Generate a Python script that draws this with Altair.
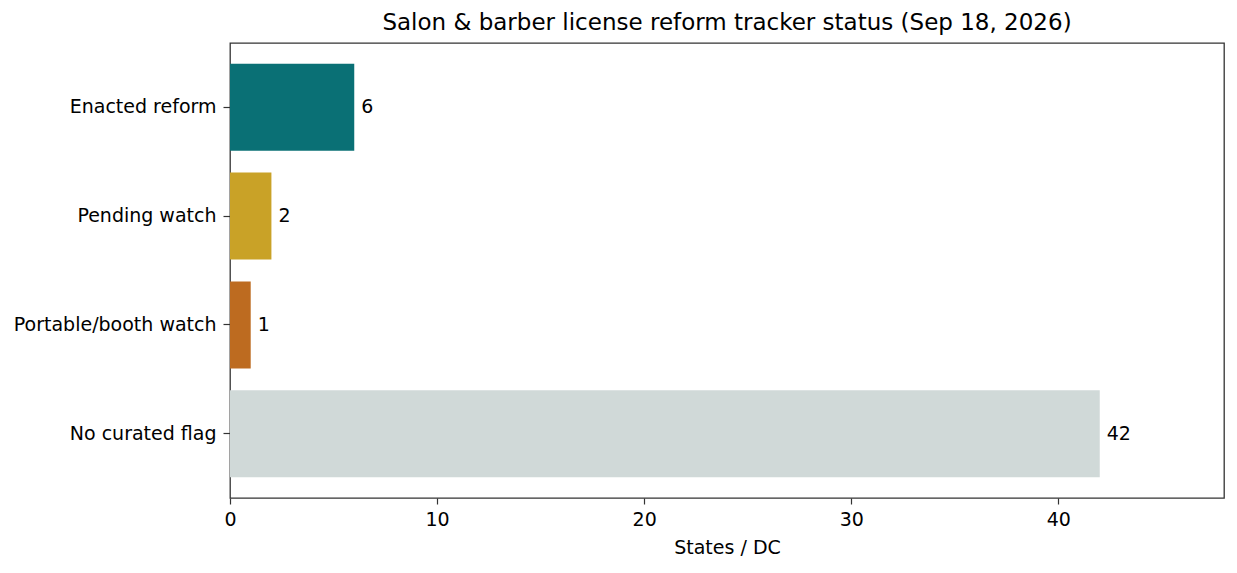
import altair as alt
import pandas as pd

categories = ["Enacted reform", "Pending watch", "Portable/booth watch", "No curated flag"]
counts = [6, 2, 1, 42]
colors = ["#0a7075", "#c9a227", "#bd6b20", "#d0d9d8"]

df = pd.DataFrame({"status": categories, "count": counts, "color": colors})

FONT = "DejaVu Sans"
FS = 19

y_enc = alt.Y("status:N", sort=categories,
              scale=alt.Scale(paddingInner=0.2, paddingOuter=0.19),
              axis=alt.Axis(title=None, labelFontSize=FS, labelColor="#000",
                            tickSize=7, tickColor="#333", tickWidth=1.2, domain=False,
                            labelPadding=7, labelFont=FONT, labelLimit=400))
x_enc = alt.X("count:Q", scale=alt.Scale(domain=[0, 48], nice=False),
              axis=alt.Axis(title="States / DC", values=[0, 10, 20, 30, 40],
                            labelFontSize=FS, titleFontSize=FS, titleFontWeight="normal",
                            labelColor="#000", titleColor="#000", tickSize=6,
                            tickColor="#333", tickWidth=1.2, domain=False, grid=False,
                            labelFlush=False,
                            labelPadding=6, titlePadding=9, labelFont=FONT, titleFont=FONT))

bars = alt.Chart(df).mark_bar().encode(
    y=y_enc, x=x_enc,
    color=alt.Color("color:N", scale=None)
)
labels = alt.Chart(df).mark_text(align="left", baseline="middle", dx=7,
                                 fontSize=FS, font=FONT, color="#000").encode(
    y=alt.Y("status:N", sort=categories), x="count:Q", text="count:Q"
)

chart = (bars + labels).properties(
    width=994, height=455,
    title=alt.TitleParams("Salon & barber license reform tracker status (Sep 18, 2026)",
                          fontSize=23, fontWeight="normal", font=FONT, color="#000",
                          anchor="middle", offset=8),
    autosize=alt.AutoSizeParams(type="none"),
    padding={"left": 222, "top": 35, "right": 5, "bottom": 60},
).configure_view(stroke="#333", strokeWidth=1.3).configure_axis(grid=False)

chart.save("out.html", embed_options={"renderer": "svg", "actions": False})
